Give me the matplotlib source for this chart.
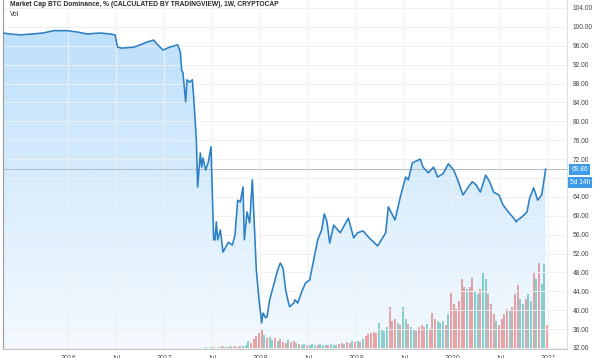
import matplotlib
matplotlib.use('Agg')
import matplotlib.pyplot as plt
import numpy as np
from matplotlib.patches import Polygon

plt.rcParams['font.family'] = ['Liberation Sans', 'DejaVu Sans']

# weekly index (t) and BTC dominance, %
t = [0, 5, 13, 22, 30, 38, 48, 56, 63, 73,
     80, 84, 86, 89, 98, 103, 108, 113, 116, 120,
     125, 131, 133, 134, 135, 137, 138, 140, 142, 143,
     145, 146, 148, 149, 150, 152, 154, 156, 158, 159,
     160, 161, 163, 165, 169, 172, 174, 176, 178, 180,
     181, 183, 185, 187, 190, 192, 194, 195, 197, 198,
     200, 202, 204, 206, 208, 210, 212, 214, 215, 218,
     219, 221, 224, 227, 230, 233, 236, 239, 241, 243,
     245, 248, 253, 259, 263, 266, 270, 274, 281, 287,
     289, 292, 294, 298, 302, 304, 307, 313, 315, 319,
     323, 326, 330, 334, 338, 341, 345, 349, 352, 355,
     358, 362, 365, 368, 372, 375, 379, 383, 385, 386,
     389, 393, 395, 398, 401, 404, 407]
dominance = [98.7, 98.5, 98.3, 98.5, 98.7, 99.2, 99.2, 98.9, 98.5, 98.7,
             98.5, 98.3, 95.7, 95.5, 95.7, 96.2, 96.8, 97.2, 96.2, 95.1,
             95.7, 96.2, 94.7, 90.9, 90.2, 84.1, 88.8, 88.3, 88.8, 85.2,
             76.1, 66.1, 73.3, 70.3, 72.2, 69.7, 71.4, 74.6, 54.9, 54.9,
             58.7, 54.9, 57.0, 52.3, 54.4, 53.8, 55.9, 63.3, 62.9, 66.1,
             54.9, 60.8, 58.5, 67.6, 48.5, 42.2, 37.3, 39.4, 38.4, 38.6,
             42.2, 44.3, 46.4, 48.5, 50.0, 48.9, 44.3, 41.7, 40.7, 41.5,
             42.2, 41.5, 43.9, 45.8, 46.4, 50.6, 54.9, 57.0, 60.4, 58.7,
             54.2, 58.0, 56.4, 59.5, 55.3, 56.4, 56.8, 55.5, 53.6, 56.4,
             61.9, 60.2, 59.1, 64.0, 68.2, 67.6, 71.2, 72.0, 70.3, 69.1,
             70.3, 68.2, 68.9, 71.0, 69.7, 67.6, 64.4, 66.1, 67.2, 66.5,
             65.0, 68.6, 67.2, 65.0, 64.4, 62.3, 60.8, 59.5, 58.7, 59.1,
             59.7, 60.8, 63.8, 65.9, 63.3, 64.4, 69.86]
last_price = 69.86

# volume bars, one every 2 weeks from t=148
vol_start = 148
volume = [1, 1, 2, 1, 2, 2, 1, 2, 3, 2, 2, 3, 2, 3, 2, 3, 3,
          4, 8, 6, 10, 13, 16, 19,
          14, 11, 12, 9, 11, 8, 10, 7, 6, 9, 7, 8, 6, 5,
          4, 5, 4, 4, 5, 4, 4, 5, 4, 4, 4, 5, 4, 4, 5,
          6, 5, 7, 6, 8, 7, 8, 7, 10, 13,
          15, 16, 17, 16, 26,
          20, 18, 22, 42, 28,
          30, 26, 24, 42,
          30, 25, 22, 20, 18,
          22, 24, 22, 25, 20,
          36, 30, 28, 26, 28,
          24, 35, 56, 45, 40,
          48, 70, 62, 60, 62,
          71, 58, 55, 60, 76,
          70, 55, 45, 35, 28,
          24, 30, 35, 40, 38,
          42, 55, 64, 50, 45,
          50, 55, 48, 76, 70,
          86, 65, 85, 24]
vol_dir = ("grgrgrggrgrgrrgrg" "ggrrrrr" "grggrgrrrgrrgr" "ggrgggrgggrgggr"
           "rgrrgrgrgr" "rrrrg" "gggrr" "rgrg" "grggr" "rrrgr" "rrggg"
           "rgrrr" "rrrgr" "rggrg" "grrrg" "rrrrg" "rrrgg" "rggrg" "rggr")

xtick_labels = ['2016', 'Jul', '2017', 'Jul', '2018', 'Jul', '2019', 'Jul', '2020', 'Jul', '2021']
yticks = np.arange(32, 105, 4)

fig = plt.figure(figsize=(6, 3.58), dpi=100)
ax = fig.add_axes([3/600, 9/358, 564/600, 349/358])
ax.set_xlim(0, 423)
ax.set_ylim(31.78, 105.69)

# gradient fill under the line
grad = np.linspace(0.05, 0.30, 256).reshape(-1, 1)
rgba = np.zeros((256, 1, 4))
rgba[..., 0] = 33/255
rgba[..., 1] = 150/255
rgba[..., 2] = 243/255
rgba[..., 3] = grad
im = ax.imshow(rgba, extent=[0, 423, 31.78, 100], origin='lower', aspect='auto', zorder=1)
poly = Polygon(list(zip(t, dominance)) + [(t[-1], 31.78), (t[0], 31.78)], closed=True,
               facecolor='none', edgecolor='none')
ax.add_patch(poly)
im.set_clip_path(poly)

ax.plot(t, dominance, color='#2b7fc4', lw=1.15, zorder=4)
ax.axhline(last_price, color='#b4bcc4', lw=0.7, zorder=2)

# volume on its own scale
ax2 = ax.twinx()
ax2.set_ylim(0, 349)
vx = vol_start + 2 * np.arange(len(volume))
cols = ['#f5a3a1' if d == 'r' else '#8fd3cb' for d in vol_dir]
ax2.bar(vx, volume, width=1.5, color=cols, zorder=3)
ax2.set_yticks([])
for s in ax2.spines.values():
    s.set_visible(False)

ax.set_zorder(ax2.get_zorder() + 1)
ax.patch.set_visible(False)

# grid and axes; 68.00 sits under the last-value boxes
ax.set_xticks(48.75 + 36 * np.arange(len(xtick_labels)))
ax.set_xticklabels(xtick_labels)
ax.set_yticks(yticks)
ax.set_yticklabels(['' if v == 68 else '%.2f' % v for v in yticks])
ax.yaxis.tick_right()
ax.tick_params(axis='y', length=0, pad=4, labelsize=4.8, labelcolor='#444444')
ax.tick_params(axis='x', length=0, pad=4, labelsize=5, labelcolor='#555555')
ax.grid(True, color='#eef0f3', lw=0.7, zorder=0)
ax.spines['top'].set_visible(False)
ax.spines['left'].set_color('#9a9a9a')
ax.spines['left'].set_linewidth(0.8)
ax.spines['bottom'].set_color('#c8c8c8')
ax.spines['right'].set_color('#d8d8d8')
ax.spines['right'].set_linewidth(0.6)

# last value labels
ax.annotate('69.86', xy=(1.0, last_price), xycoords=('axes fraction', 'data'),
            xytext=(3, 0), textcoords='offset points', ha='left', va='center',
            fontsize=4.8, color='white',
            bbox=dict(boxstyle='square,pad=0.3', fc='#3d9be9', ec='none'))
ax.annotate('5d 14h', xy=(1.0, last_price), xycoords=('axes fraction', 'data'),
            xytext=(2, -9.5), textcoords='offset points', ha='left', va='center',
            fontsize=4.8, color='white',
            bbox=dict(boxstyle='square,pad=0.3', fc='#3d9be9', ec='none'))

fig.text(10/600, 1 - 5/358, 'Market Cap BTC Dominance, % (CALCULATED BY TRADINGVIEW), 1W, CRYPTOCAP',
         fontsize=4.8, fontweight='bold', color='#2a2a2a', va='center', ha='left')
fig.text(10/600, 1 - 15/358, 'Vol', fontsize=4.8, color='#333333', va='center', ha='left')

fig.savefig('out.png', dpi=100)
